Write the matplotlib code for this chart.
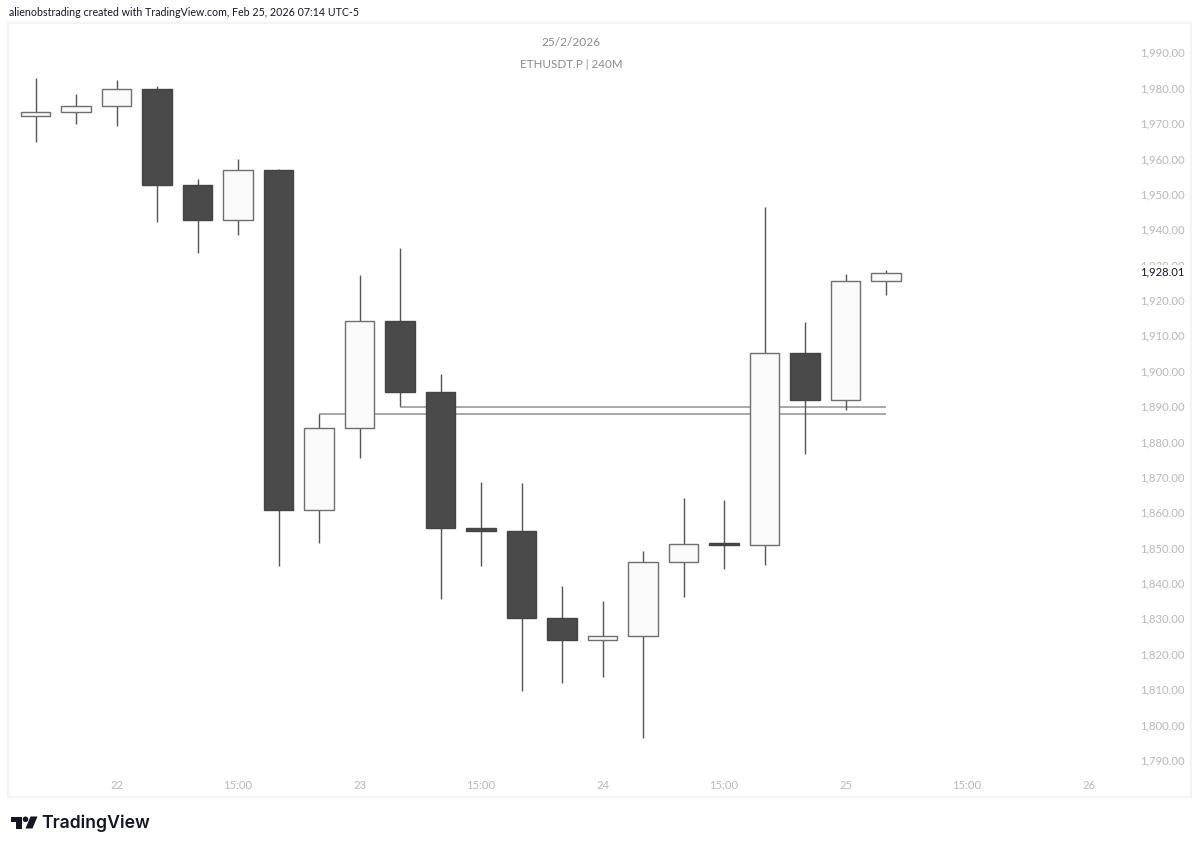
"""ETHUSDT.P 240M candles in the TradingView snapshot look."""

import matplotlib

matplotlib.use("Agg")

import matplotlib.pyplot as plt
from matplotlib.patches import Circle, Polygon, Rectangle
from matplotlib.transforms import ScaledTranslation
import numpy as np

W, H = 1200, 850

opens = [1972.3, 1973.5, 1975.2, 1980.0, 1952.8, 1942.9, 1957.0, 1861.0, 1884.0, 1914.4, 1894.3,
         1856.0, 1855.0, 1830.4, 1824.2, 1825.3, 1846.2, 1851.5, 1851.0, 1905.3, 1892.0, 1925.7]
highs = [1983.0, 1978.5, 1982.5, 1980.8, 1954.5, 1960.2, 1957.3, 1888.0, 1927.4, 1935.0, 1899.4,
         1868.9, 1868.6, 1839.5, 1835.2, 1849.4, 1864.3, 1863.8, 1946.5, 1914.0, 1927.7, 1928.9]
lows = [1965.0, 1970.0, 1969.5, 1942.4, 1933.6, 1938.7, 1845.0, 1851.5, 1875.6, 1890.3, 1835.8,
        1845.0, 1809.8, 1812.0, 1813.7, 1796.5, 1836.4, 1844.3, 1845.4, 1876.8, 1889.2, 1921.7]
closes = [1973.5, 1975.2, 1980.0, 1952.8, 1942.9, 1957.0, 1861.0, 1884.0, 1914.4, 1894.3, 1856.0,
          1855.0, 1830.4, 1824.2, 1825.3, 1846.2, 1851.3, 1851.0, 1905.3, 1892.0, 1925.7, 1928.0]

price_ticks = list(range(1790, 2000, 10))
time_ticks = [2, 5, 8, 11, 14, 17, 20, 23, 26]
time_labels = ["22", "15:00", "23", "15:00", "24", "15:00", "25", "15:00", "26"]

# level, first candle, last candle
levels = [(1890.1, 9, 21), (1888.0, 7, 21)]
last_price = 1928.01

UP_FACE = "#fafafa"
DOWN_FACE = "#4a4a4a"
UP_EDGE = "#6e6e6e"
DOWN_EDGE = "#444444"
WICK = "#555555"
LEVEL = "#999999"
MUTED = "#b8b8b8"

plt.rcParams["font.family"] = ["Lato", "DejaVu Sans"]

fig = plt.figure(figsize=(W / 100, H / 100), dpi=100, facecolor="white")

# pane spans px 8..1191 across and 23..797 down
left, right, top, bottom = 8, 1191, 23, 797
ax = fig.add_axes([left / W, 1 - bottom / H, (right - left) / W, (bottom - top) / H])
ax.set_xlim((left - 35.5) / 40.5, (right - 35.5) / 40.5)
ax.set_ylim(1990 - (bottom - 53.5) / 3.5375, 1990 - (top - 53.5) / 3.5375)

o = np.array(opens)
c = np.array(closes)
x = np.arange(len(o))
rising = c >= o
ax.vlines(x, lows, highs, color=WICK, linewidth=1.0, zorder=2)
ax.bar(x, np.abs(c - o), bottom=np.minimum(o, c), width=0.74,
       color=[UP_FACE if r else DOWN_FACE for r in rising],
       edgecolor=[UP_EDGE if r else DOWN_EDGE for r in rising],
       linewidth=1.0, zorder=3)

for level, start, end in levels:
    ax.hlines(level, start, end, color=LEVEL, linewidth=1.2, zorder=1)

ax.yaxis.tick_right()
ax.set_yticks(price_ticks, [f"{p:,.2f}" for p in price_ticks])
ax.set_xticks(time_ticks, time_labels)
ax.tick_params(axis="y", length=0, pad=-36.7, labelsize=8.1, labelcolor=MUTED)
ax.tick_params(axis="x", length=0, pad=-12.5, labelsize=8.1, labelcolor=MUTED)
# scale labels sit about a pixel above their price
nudge = ScaledTranslation(0, 1.2 / 100, fig.dpi_scale_trans)
for label in ax.get_yticklabels():
    label.set_horizontalalignment("left")
    label.set_verticalalignment("center_baseline")
    label.set_transform(label.get_transform() + nudge)
for spine in ax.spines.values():
    spine.set_color("#f3f3f3")
    spine.set_linewidth(1.5)

# last price tag over the scale
ax.annotate(f"{last_price:,.2f}", xy=(1, last_price), xycoords=("axes fraction", "data"),
            xytext=(-36.7, 0.5), textcoords="offset points", ha="left", va="center",
            fontsize=8.1, color="#131722", zorder=6,
            bbox=dict(facecolor="white", edgecolor="none", pad=1.0))

center = 571 / W
fig.text(center, 1 - 43 / H, "25/2/2026", ha="center", va="center", fontsize=8.6, color="#8a8a8a")
fig.text(center, 1 - 64 / H, "ETHUSDT.P | 240M", ha="center", va="center", fontsize=8.4, color="#8a8a8a")
fig.text(9 / W, 1 - 13 / H, "alienobstrading created with TradingView.com, Feb 25, 2026 07:14 UTC-5",
         ha="left", va="center", fontsize=7.7, color="#131722")

# logo, drawn in pixel space
logo = fig.add_axes([0, 0, 1, 1], facecolor="none")
logo.set_xlim(0, W)
logo.set_ylim(H, 0)
logo.axis("off")
logo.add_patch(Rectangle((10.5, 816.5), 11, 5.5, color="#131722", linewidth=0))
logo.add_patch(Rectangle((16, 816.5), 5.5, 12, color="#131722", linewidth=0))
logo.add_patch(Circle((25.5, 819.3), 2.8, color="#131722", linewidth=0))
logo.add_patch(Polygon([(30.5, 816.5), (37.5, 816.5), (32.5, 828.5), (25.5, 828.5)], color="#131722", linewidth=0))
logo.text(41.5, 823, "TradingView", ha="left", va="center", fontsize=12.7, fontweight="semibold",
          family="Inter", color="#131722")

fig.savefig("out.png", dpi=100)
plt.close(fig)
